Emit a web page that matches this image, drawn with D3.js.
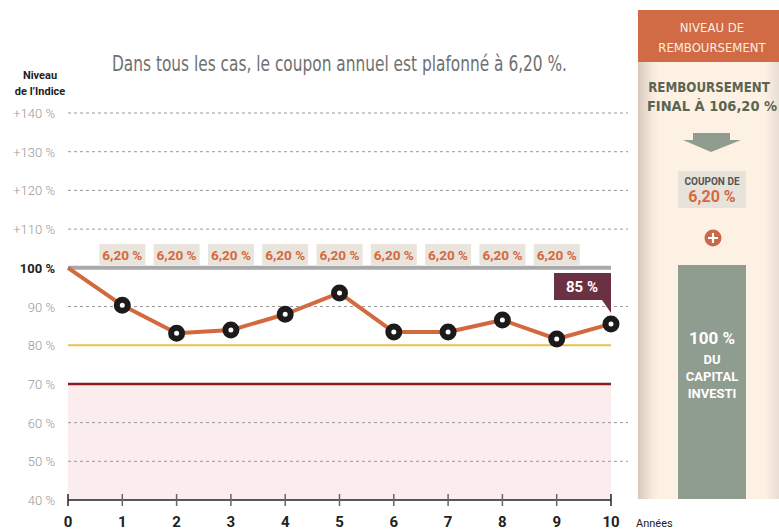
<!DOCTYPE html>
<html>
<head>
<meta charset="utf-8">
<script src="https://cdn.jsdelivr.net/npm/d3@7"></script>
<style>
  body { margin: 0; background: #fff; }
  svg { display: block; font-family: "Liberation Sans Narrow", "DejaVu Sans Condensed", "Roboto", sans-serif; }
</style>
</head>
<body>
<svg id="chart" width="779" height="532"></svg>
<script>
// values
const years = [0, 1, 2, 3, 4, 5, 6, 7, 8, 9, 10];
const indexLevel = [100, 90.3, 83.1, 83.9, 88, 93.5, 83.4, 83.4, 86.5, 81.6, 85.5];
const yTicks = [40, 50, 60, 70, 80, 90, 100, 110, 120, 130, 140];
const yTickLabels = ["40 %", "50 %", "60 %", "70 %", "80 %", "90 %", "100 %", "+110 %", "+120 %", "+130 %", "+140 %"];
const couponYears = [1, 2, 3, 4, 5, 6, 7, 8, 9];
const couponText = "6,20 %";
const barrier = 70, trigger = 80, par = 100;
const finalLabel = "85 %";

const svg = d3.select("#chart");
const x = d3.scaleLinear().domain([0, 10]).range([68, 611]);
const y = d3.scaleLinear().domain([40, 140]).range([500, 113]);

// pink zone under the barrier
svg.append("rect")
  .attr("x", x(0)).attr("y", y(barrier))
  .attr("width", x(10) - x(0)).attr("height", y(40) - y(barrier))
  .attr("fill", "#fbeded");

// dashed grid
svg.selectAll("line.grid")
  .data(yTicks.filter(d => d > 40 && d !== par && d !== trigger && d !== barrier))
  .enter().append("line")
  .attr("x1", x(0)).attr("x2", 628)
  .attr("y1", d => y(d)).attr("y2", d => y(d))
  .attr("stroke", "#999").attr("stroke-width", 1).attr("stroke-dasharray", "3,3");

// y tick labels
svg.selectAll("text.ytick")
  .data(yTicks)
  .enter().append("text")
  .attr("x", 55).attr("y", d => y(d) + 5)
  .attr("text-anchor", "end")
  .attr("font-size", 13)
  .attr("font-family", "Roboto, sans-serif")
  .attr("font-weight", d => d === par ? 700 : 300)
  .attr("fill", d => d === par ? "#222" : "#999")
  .text((d, i) => yTickLabels[i]);

svg.append("text").attr("x", 40).attr("y", 79).attr("text-anchor", "middle")
  .attr("font-size", 11).attr("font-weight", 700).attr("font-family", "Roboto, sans-serif").attr("fill", "#222").text("Niveau");
svg.append("text").attr("x", 40).attr("y", 95).attr("text-anchor", "middle")
  .attr("font-size", 11).attr("font-weight", 700).attr("font-family", "Roboto, sans-serif").attr("fill", "#222").text("de l’Indice");

// title
svg.append("text").attr("x", 112).attr("y", 71)
  .attr("font-size", 21).attr("font-weight", 300).attr("fill", "#707070")
  .attr("textLength", 455).attr("lengthAdjust", "spacingAndGlyphs")
  .text("Dans tous les cas, le coupon annuel est plafonné à 6,20 %.");

// reference lines
svg.append("line").attr("x1", x(0)).attr("x2", x(10)).attr("y1", y(par)).attr("y2", y(par))
  .attr("stroke", "#a9a9ab").attr("stroke-width", 4);
svg.append("line").attr("x1", x(0)).attr("x2", x(10)).attr("y1", y(trigger)).attr("y2", y(trigger))
  .attr("stroke", "#e8c24a").attr("stroke-width", 2);
svg.append("line").attr("x1", x(0)).attr("x2", x(10)).attr("y1", y(barrier)).attr("y2", y(barrier))
  .attr("stroke", "#8e1c1f").attr("stroke-width", 2.5);

// coupon boxes
const cg = svg.selectAll("g.coupon").data(couponYears).enter().append("g")
  .attr("transform", d => `translate(${x(d)},255)`);
cg.append("rect").attr("x", -23).attr("y", -11).attr("width", 46).attr("height", 21).attr("fill", "#e9e4dc");
cg.append("text").attr("y", 5).attr("text-anchor", "middle")
  .attr("font-size", 13).attr("font-weight", 700).attr("fill", "#d4693e")
  .attr("font-family", "Roboto, sans-serif")
  .attr("textLength", 40).attr("lengthAdjust", "spacingAndGlyphs")
  .text(couponText);

// x axis
const xAxis = svg.append("g").attr("transform", `translate(0,${y(40)})`);
xAxis.append("line").attr("x1", x(0)).attr("x2", x(10)).attr("stroke", "#222").attr("stroke-width", 1.5);
xAxis.selectAll("line.t").data(years).enter().append("line")
  .attr("x1", d => x(d)).attr("x2", d => x(d)).attr("y1", -6).attr("y2", 6)
  .attr("stroke", d => d === 0 || d === 10 ? "#222" : "#666").attr("stroke-width", 1.5);
xAxis.selectAll("text").data(years).enter().append("text")
  .attr("x", d => x(d)).attr("y", 27).attr("text-anchor", "middle")
  .attr("font-size", 15).attr("font-weight", 700).attr("font-family", "Roboto, sans-serif").attr("fill", "#222")
  .text(d => d);
svg.append("text").attr("x", 636).attr("y", 527).attr("font-size", 11).attr("font-family", "Roboto, sans-serif")
  .attr("fill", "#222").text("Années");

// index line
const line = d3.line().x((d, i) => x(years[i])).y(d => y(d));
svg.append("path").datum(indexLevel).attr("d", line)
  .attr("fill", "none").attr("stroke", "#d2693f").attr("stroke-width", 4).attr("stroke-linejoin", "round");
svg.selectAll("circle.pt").data(indexLevel.slice(1)).enter().append("circle")
  .attr("cx", (d, i) => x(years[i + 1])).attr("cy", d => y(d)).attr("r", 5.5)
  .attr("fill", "#fff").attr("stroke", "#1c1a1b").attr("stroke-width", 6);

// final value callout
const lx = x(10), ly = y(indexLevel[10]);
svg.append("path")
  .attr("d", `M${lx - 57},${ly - 51} H${lx} V${ly - 11} L${lx - 9},${ly - 24} H${lx - 57} Z`)
  .attr("fill", "#6b3042");
svg.append("text").attr("x", lx - 29).attr("y", ly - 32).attr("text-anchor", "middle")
  .attr("font-size", 15).attr("font-weight", 700).attr("font-family", "Roboto, sans-serif").attr("fill", "#fff")
  .text(finalLabel);

// right panel
const defs = svg.append("defs");
const grad = defs.append("linearGradient").attr("id", "panelGrad");
[[0, "#d9c9bd"], [0.1, "#f6e9dc"], [0.15, "#fdf1e4"], [0.9, "#fdf1e4"], [1, "#e9dcd0"]].forEach(s =>
  grad.append("stop").attr("offset", s[0]).attr("stop-color", s[1]));
svg.append("rect").attr("x", 638).attr("y", 10).attr("width", 141).attr("height", 489).attr("fill", "url(#panelGrad)");
svg.append("rect").attr("x", 638).attr("y", 10).attr("width", 141).attr("height", 52).attr("fill", "#d06b45");
svg.append("text").attr("x", 712).attr("y", 32).attr("text-anchor", "middle").attr("font-size", 13)
  .attr("fill", "#fbeee4").text("NIVEAU DE");
svg.append("text").attr("x", 712).attr("y", 52).attr("text-anchor", "middle").attr("font-size", 13)
  .attr("fill", "#fbeee4").text("REMBOURSEMENT");
svg.append("text").attr("x", 709).attr("y", 92).attr("text-anchor", "middle").attr("font-size", 13.2)
  .attr("font-weight", 700).attr("fill", "#5b6452").text("REMBOURSEMENT");
svg.append("text").attr("x", 712).attr("y", 111).attr("text-anchor", "middle").attr("font-size", 14.5)
  .attr("font-weight", 700).attr("fill", "#5b6452").text("FINAL À 106,20 %");
svg.append("path").attr("d", "M693,133 H730 V140 H741 L711,152 L683,140 H693 Z").attr("fill", "#8f9c90");
svg.append("rect").attr("x", 678).attr("y", 171).attr("width", 68).attr("height", 37).attr("fill", "#e7e2da");
svg.append("text").attr("x", 712).attr("y", 185).attr("text-anchor", "middle").attr("font-size", 10)
  .attr("font-weight", 700).attr("fill", "#555").attr("font-family", "Roboto, sans-serif").text("COUPON DE");
svg.append("text").attr("x", 712).attr("y", 202).attr("text-anchor", "middle").attr("font-size", 16)
  .attr("font-weight", 700).attr("fill", "#d4693e").attr("font-family", "Roboto, sans-serif").text(couponText);
svg.append("circle").attr("cx", 713).attr("cy", 238).attr("r", 8.5).attr("fill", "#c9694a");
svg.append("path").attr("d", "M708,238 H718 M713,233 V243").attr("stroke", "#fff").attr("stroke-width", 2.2);
svg.append("rect").attr("x", 678).attr("y", 265).attr("width", 68).attr("height", 234).attr("fill", "#8f9c90");
[["100 %", 344, 17], ["DU", 364, 13], ["CAPITAL", 381, 13], ["INVESTI", 398, 13]].forEach(t =>
  svg.append("text").attr("x", 712).attr("y", t[1]).attr("text-anchor", "middle").attr("font-size", t[2])
    .attr("font-weight", 700).attr("font-family", "Roboto, sans-serif").attr("fill", "#fff").text(t[0]));
</script>
</body>
</html>
